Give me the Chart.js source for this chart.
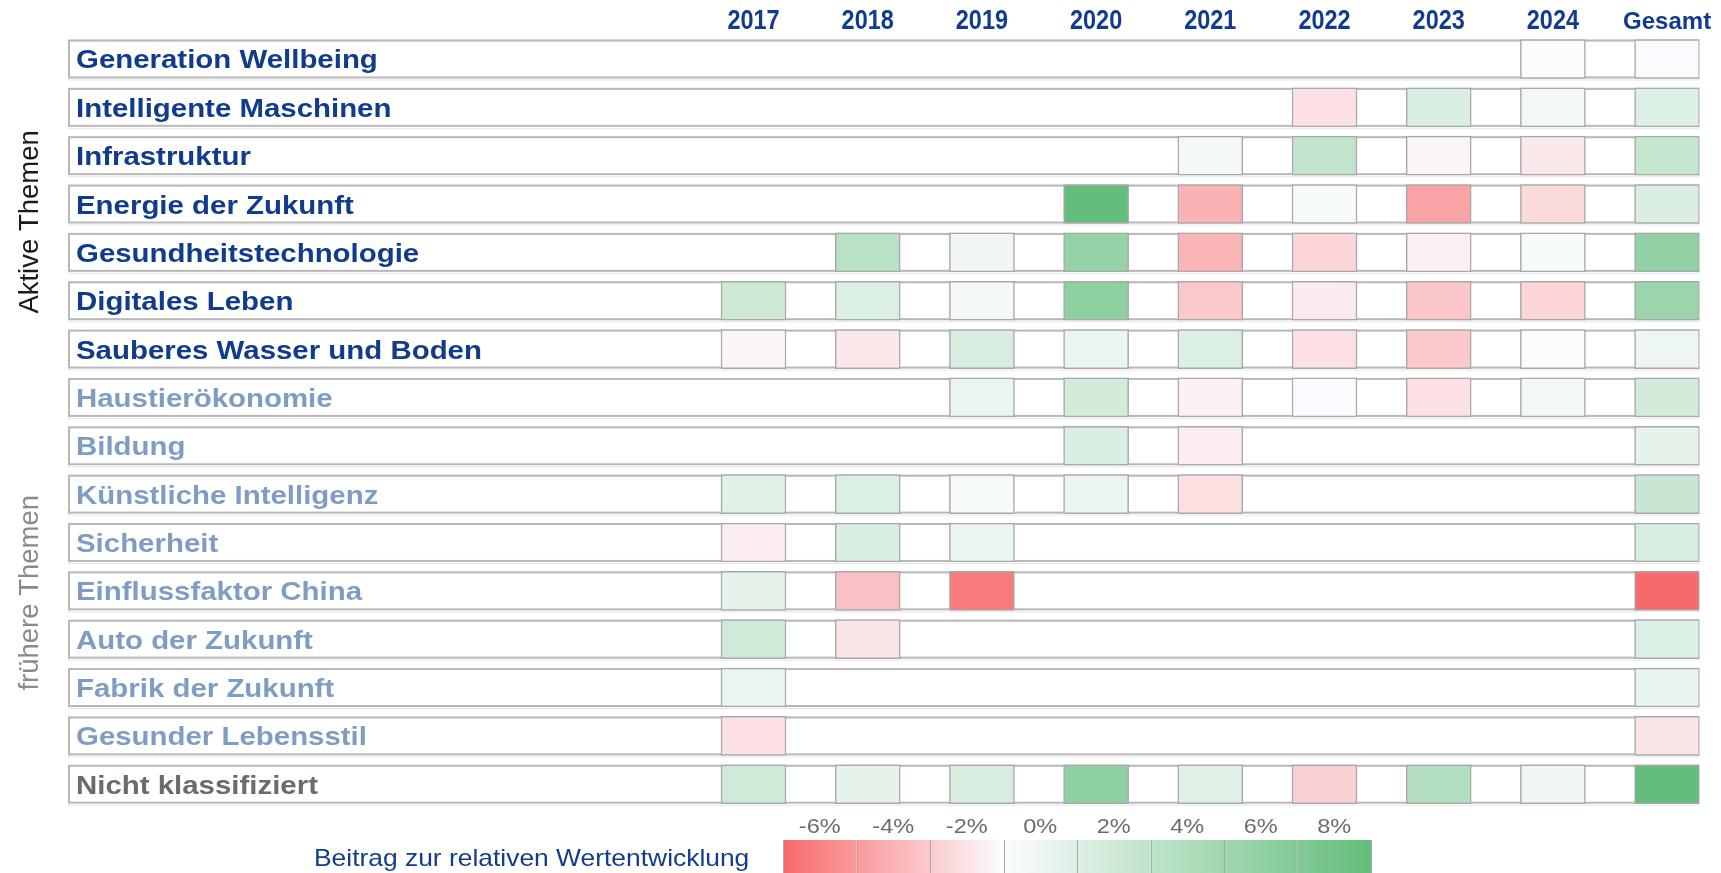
<!DOCTYPE html>
<html><head><meta charset="utf-8">
<script src="https://cdn.jsdelivr.net/npm/chart.js@4.4.1/dist/chart.umd.min.js"></script>
<style>html,body{margin:0;padding:0;background:#fff;}canvas{display:block;}</style>
</head><body>
<canvas id="c" width="1721" height="873"></canvas>
<script>
// ---------- data ----------
const themes = [
  'Generation Wellbeing','Intelligente Maschinen','Infrastruktur','Energie der Zukunft',
  'Gesundheitstechnologie','Digitales Leben','Sauberes Wasser und Boden',
  'Haustierökonomie','Bildung','Künstliche Intelligenz','Sicherheit','Einflussfaktor China',
  'Auto der Zukunft','Fabrik der Zukunft','Gesunder Lebensstil','Nicht klassifiziert'
];
const themeGroups = ['active','active','active','active','active','active','active',
  'former','former','former','former','former','former','former','former','other'];
const columns = ['2017','2018','2019','2020','2021','2022','2023','2024','Gesamt'];
// contribution to relative performance, % (null = theme not present)
const v2017 = [null,null,null,null,null, 3.1,-0.3,null,null, 1.8,-0.6, 1.5, 2.9, 1.2,-1.1, 2.9];
const v2018 = [null,null,null,null, 4.4, 2.1,-0.9,null,null, 2.1, 2.3,-2.4,-1.0,null,null, 1.5];
const v2019 = [null,null,null,null, 0.8, 0.5, 2.3, 1.1,null, 0.4, 1.2,-5.3,null,null,null, 2.3];
const v2020 = [null,null,null,10.0, 6.7, 7.1, 1.1, 2.7, 2.2, 1.2,null,null,null,null,null, 7.1];
const v2021 = [null,null, 0.6,-3.0,-2.9,-2.1, 2.1,-0.5,-0.6,-1.2,null,null,null,null,null, 1.9];
const v2022 = [null,-1.1, 3.8, 0.3,-1.6,-0.7,-1.1, 0.1,null,null,null,null,null,null,null,-1.8];
const v2023 = [null, 2.2,-0.3,-3.6,-0.5,-2.2,-2.1,-1.1,null,null,null,null,null,null,null, 4.8];
const v2024 = [ 0.0, 0.7,-0.8,-1.4, 0.4,-1.6, 0.0, 0.6,null,null,null,null,null,null,null, 0.8];
const vGesamt = [0.1, 2.0, 3.6, 2.2, 6.9, 6.3, 0.9, 2.7, 1.5, 3.4, 2.4,-6.0, 2.0, 1.3,-1.0,10.0];
const seriesByColumn = [v2017,v2018,v2019,v2020,v2021,v2022,v2023,v2024,vGesamt];
const legendTicks = [-6,-4,-2,0,2,4,6,8];
const legendStep = 2;
const legendTitle = 'Beitrag zur relativen Wertentwicklung';
const groupLabels = ['Aktive Themen','frühere Themen'];

// ---------- colour scale ----------
const RED_END = -6, GREEN_END = 10;
const C_RED = [248,105,107], C_WHITE = [252,252,255], C_GREEN = [99,190,123];
function colorFor(v){
  let t, c;
  if (v < 0){ t = Math.min(1, v / RED_END); c = C_RED; }
  else { t = Math.min(1, v / GREEN_END); c = C_GREEN; }
  const m = C_WHITE.map((w,k)=>Math.round(w + (c[k]-w)*t));
  return `rgb(${m[0]},${m[1]},${m[2]})`;
}

// ---------- styles ----------
const CELL_HALF = 0.403;
const LABEL_COLORS = {active:'#113c8d', former:'#7f9dc4', other:'#6f6969'};
const STRETCH = 1.11;
const FONT = '"Liberation Sans", Arial, sans-serif';

const cells = [];
seriesByColumn.forEach((arr, ci) => arr.forEach((v, ri) => {
  if (v !== null) cells.push({x: ci, y: [ri - CELL_HALF, ri + CELL_HALF], v});
}));

function txt(ctx, s, x, y, font, color, align, sx){
  ctx.save(); ctx.translate(x, y); ctx.scale(sx, 1);
  ctx.font = font; ctx.fillStyle = color; ctx.textAlign = align; ctx.textBaseline = 'alphabetic';
  ctx.fillText(s, 0, 0); ctx.restore();
}

const decor = {
  id: 'decor',
  beforeDatasetsDraw(chart){
    const {ctx, chartArea: a, scales: {y}} = chart;
    ctx.save();
    themes.forEach((t, i) => {
      const top = y.getPixelForValue(i - CELL_HALF), bot = y.getPixelForValue(i + CELL_HALF);
      ctx.fillStyle = '#fff';
      ctx.fillRect(a.left, top, a.right - a.left, bot - top);
      ctx.strokeStyle = '#e6e6e6'; ctx.lineWidth = 1;
      ctx.strokeRect(a.left + 0.5, top + 1.5, a.right - a.left - 1, bot - top);
      ctx.strokeStyle = '#b8b8b8'; ctx.lineWidth = 2;
      ctx.strokeRect(a.left + 1, top + 1, a.right - a.left - 2, bot - top - 2);
    });
    ctx.restore();
  },
  afterDatasetsDraw(chart){
    const {ctx, chartArea: a, scales: {x, y}} = chart;
    // row labels
    const fs = 26.5;
    themes.forEach((t, i) => {
      const cy = y.getPixelForValue(i);
      txt(ctx, t, a.left + 8, cy + fs * 0.716 / 2, `bold ${fs}px ${FONT}`, LABEL_COLORS[themeGroups[i]], 'left', STRETCH);
    });
    // column headers
    columns.forEach((c, ci) => {
      const cx = x.getPixelForValue(ci);
      if (c === 'Gesamt') txt(ctx, c, cx, 29.3, `bold 24px ${FONT}`, LABEL_COLORS.active, 'center', 1.0);
      else txt(ctx, c, cx, 29.3, `bold 27px ${FONT}`, LABEL_COLORS.active, 'center', 0.87);
    });
    // group labels (rotated)
    const groups = [{t: groupLabels[0], at: 3.37, color: '#1a1a1a'}, {t: groupLabels[1], at: 11.04, color: '#8a8a8a'}];
    groups.forEach(g => {
      ctx.save();
      ctx.translate(37.5, y.getPixelForValue(g.at));
      ctx.rotate(-Math.PI / 2);
      ctx.font = `27.5px ${FONT}`; ctx.fillStyle = g.color; ctx.textAlign = 'center'; ctx.textBaseline = 'alphabetic';
      ctx.fillText(g.t, 0, 0);
      ctx.restore();
    });
    // colour legend
    const L0 = 783, SW = 73.5, LT = 840, LB = 880;
    legendTicks.forEach((v, k) => {
      const x0 = L0 + k * SW;
      const g = ctx.createLinearGradient(x0, 0, x0 + SW, 0);
      g.addColorStop(0, colorFor(v));
      g.addColorStop(0.5, colorFor(v + legendStep / 2));
      g.addColorStop(1, colorFor(v + legendStep));
      ctx.fillStyle = g;
      ctx.fillRect(x0, LT, SW, LB - LT);
      txt(ctx, `${v}%`, x0 + SW / 2, 833, `21px ${FONT}`, '#6b6b6b', 'center', 1.12);
    });
    ctx.save();
    ctx.strokeStyle = '#a9a9a9'; ctx.lineWidth = 1;
    for (let k = 0; k <= legendTicks.length; k++) {
      const xx = Math.round(L0 + k * SW) + 0.5;
      ctx.beginPath(); ctx.moveTo(xx, LT); ctx.lineTo(xx, LB); ctx.stroke();
    }
    ctx.restore();
    txt(ctx, legendTitle, 314, 866, `24px ${FONT}`, '#143c8c', 'left', 1.1);
  }
};

new Chart(document.getElementById('c'), {
  type: 'bar',
  data: {
    datasets: [{
      data: cells,
      backgroundColor: ctx => ctx.raw ? colorFor(ctx.raw.v) : '#fff',
      borderColor: '#a8a8a8',
      borderWidth: 1.5,
      borderSkipped: false,
      barThickness: 65
    }]
  },
  options: {
    responsive: false,
    animation: false,
    events: [],
    layout: {padding: {left: 68, right: 21.7, top: 34.8, bottom: 64.6}},
    plugins: {legend: {display: false}, tooltip: {enabled: false}},
    scales: {
      x: {type: 'linear', display: false, offset: false, min: -6.003, max: 8.282},
      y: {type: 'linear', display: false, reverse: true, min: -0.5, max: 15.5}
    }
  },
  plugins: [decor]
});
</script>
</body></html>
